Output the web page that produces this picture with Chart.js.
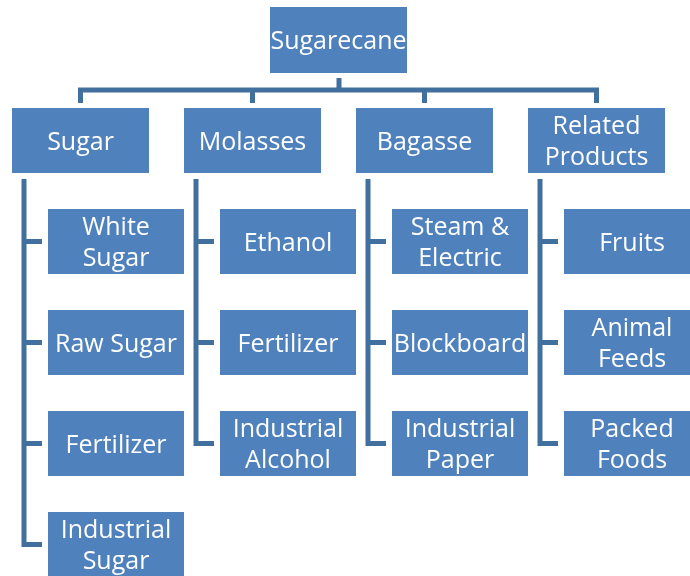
<!DOCTYPE html>
<html>
<head>
<meta charset="utf-8">
<script src="https://cdn.jsdelivr.net/npm/chart.js@4/dist/chart.umd.min.js"></script>
<style>
  html, body { margin: 0; padding: 0; background: #fff; }
  canvas { display: block; }
</style>
</head>
<body>
<canvas id="tree" width="690" height="576"></canvas>
<script>
// tree content
const rootLabel = ['Sugarecane'];
const groupLabels = [['Sugar'], ['Molasses'], ['Bagasse'], ['Related', 'Products']];
const childLabels = [
  [['White', 'Sugar'], ['Raw Sugar'], ['Fertilizer'], ['Industrial', 'Sugar']],
  [['Ethanol'], ['Fertilizer'], ['Industrial', 'Alcohol']],
  [['Steam &', 'Electric'], ['Blockboard'], ['Industrial', 'Paper']],
  [['Fruits'], ['Animal', 'Feeds'], ['Packed', 'Foods']]
];

// layout (in chart units, 1 unit = 1 px)
const colStep = 172;
const rowStep = 101;
const boxFill = '#4f81bd';
const lineColor = '#41709f';

const boxes = [];
boxes.push({ x: 270, y: 7, w: 137, h: 66, text: rootLabel });
groupLabels.forEach((g, i) => {
  boxes.push({ x: 12 + colStep * i, y: 108, w: 137, h: 65, text: g });
  childLabels[i].forEach((c, j) => {
    boxes.push({ x: 48 + colStep * i, y: 209 + rowStep * j, w: 136, h: 65, text: c });
  });
});

// connectors
const segs = [];
segs.push([{ x: 339, y: 78 }, { x: 339, y: 90 }]);
segs.push([{ x: 78, y: 90 }, { x: 599, y: 90 }]);
groupLabels.forEach((g, i) => {
  const cx = 80.5 + colStep * i;
  segs.push([{ x: cx, y: 90 }, { x: cx, y: 103 }]);
  const vx = 24 + colStep * i;
  const n = childLabels[i].length;
  const lastY = 209 + rowStep * (n - 1) + 32.5;
  segs.push([{ x: vx, y: 179 }, { x: vx, y: lastY }, { x: vx + 18, y: lastY }]);
  for (let j = 0; j < n - 1; j++) {
    const yy = 209 + rowStep * j + 32.5;
    segs.push([{ x: vx, y: yy }, { x: vx + 18, y: yy }]);
  }
});

const boxPlugin = {
  id: 'boxes',
  afterDatasetsDraw(chart) {
    const { ctx, scales: { x, y } } = chart;
    ctx.save();
    boxes.forEach(b => {
      const x0 = x.getPixelForValue(b.x);
      const x1 = x.getPixelForValue(b.x + b.w);
      const y0 = y.getPixelForValue(b.y);
      const y1 = y.getPixelForValue(b.y + b.h);
      ctx.fillStyle = boxFill;
      ctx.fillRect(x0, y0, x1 - x0, y1 - y0);
      ctx.fillStyle = '#ffffff';
      ctx.font = '25px "Open Sans"';
      ctx.textAlign = 'center';
      ctx.textBaseline = 'middle';
      const lh = 31;
      const cx = (x0 + x1) / 2;
      const cy = (y0 + y1) / 2 + 2;
      b.text.forEach((t, k) => {
        ctx.fillText(t, cx, cy + (k - (b.text.length - 1) / 2) * lh);
      });
    });
    ctx.restore();
  }
};

new Chart(document.getElementById('tree'), {
  type: 'scatter',
  data: {
    datasets: segs.map(s => ({
      data: s,
      showLine: true,
      borderColor: lineColor,
      borderWidth: 5,
      pointRadius: 0,
      borderJoinStyle: 'miter',
      fill: false
    }))
  },
  options: {
    responsive: false,
    animation: false,
    layout: { padding: 0 },
    plugins: { legend: { display: false }, tooltip: { enabled: false } },
    scales: {
      x: { type: 'linear', min: 0, max: 690, display: false },
      y: { type: 'linear', min: 0, max: 576, reverse: true, display: false }
    }
  },
  plugins: [boxPlugin]
});
</script>
</body>
</html>
